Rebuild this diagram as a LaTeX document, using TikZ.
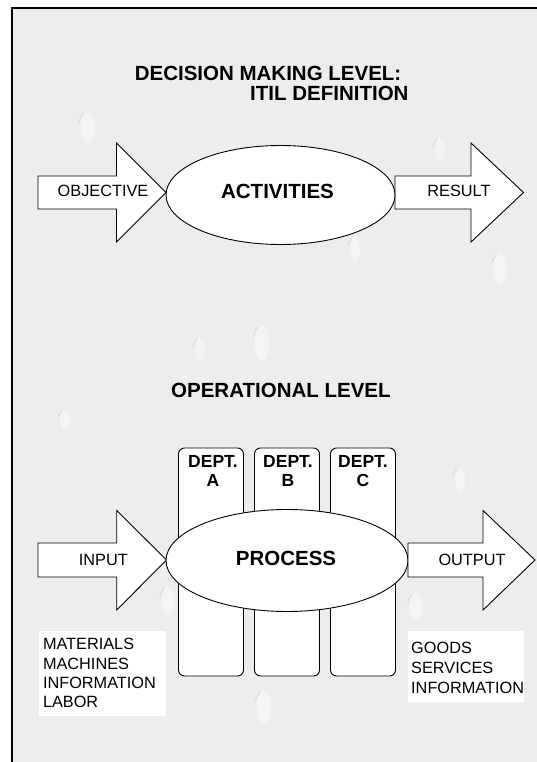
\documentclass[tikz,border=0pt]{standalone}
\usepackage{fontspec}
\setmainfont{Liberation Sans}
\usetikzlibrary{shapes.geometric}
\definecolor{paper}{gray}{0.93}
\begin{document}
\begin{tikzpicture}[x=1pt,y=-1pt,
  heading/.style={font=\fontsize{20.5}{24}\selectfont\bfseries, inner sep=0pt},
  plain/.style={font=\fontsize{16.3}{19.5}\selectfont, inner sep=0pt},
  deptlbl/.style={font=\fontsize{17.5}{19}\selectfont\bfseries, inner sep=0pt, align=center, anchor=north},
  outline/.style={draw=black, line width=0.9pt, fill=white, line join=miter},
  blob/.style={ellipse, outline, inner sep=0pt},
  deptbox/.style={draw=black, line width=0.9pt, fill=white, rounded corners=6pt,
    minimum width=65pt, minimum height=228pt, inner sep=0pt},
  listbox/.style={fill=white, inner sep=0pt, anchor=north west},
  drop/.style={fill=white, opacity=0.4},
  dropedge/.style={draw=black, opacity=0.06, line width=1.2pt},
]
\useasboundingbox (0,0) rectangle (537,762);
\fill[white] (0,0) rectangle (537,762);
\fill[paper] (11,6.7) rectangle (537,762);

% faint water drops on the paper
\foreach \x/\y/\w/\h in {88/128/7/17, 262/343/7/18, 500/270/7/16, 168/601/6/15,
                          416/607/6/15, 264/707/7/16, 440/150/5/12, 355/250/5/13,
                          200/350/5/12, 65/420/5/10, 460/480/5/12} {
  \fill[drop] (\x,\y) ellipse [x radius=\w, y radius=\h];
  \draw[dropedge] (\x,\y) ++(-\w-2,-\h*0.3) arc [start angle=200, end angle=250,
        x radius=\w+2, y radius=\h];
}

% frame
\draw[line width=2.4pt] (12.2,762) -- (12.2,7.85) -- (537,7.85);

% ---------- decision making level ----------
\node[heading, anchor=base west] (title1) at (134.6,81) {DECISION MAKING LEVEL:};
\node[heading, anchor=base west] (title2) at (250,101) {ITIL DEFINITION};

\draw[outline] (38,176) -- (116.5,176) -- (116.5,143) -- (166,192.5)
  -- (116.5,242) -- (116.5,209) -- (38,209) -- cycle;
\node[plain, anchor=base] (objective) at (103,196.7) {OBJECTIVE};

\draw[outline] (395,176) -- (471,176) -- (471,143) -- (523.5,192.5)
  -- (471,242) -- (471,209) -- (395,209) -- cycle;
\node[plain, anchor=base] (result) at (459,196.7) {RESULT};

\node[blob, minimum width=229pt, minimum height=99pt] (activities) at (280.5,195) {};
\node[heading, anchor=base] (actlbl) at (277.5,198.8) {ACTIVITIES};

% ---------- operational level ----------
\node[heading, anchor=base west] (oplevel) at (171,397.7) {OPERATIONAL LEVEL};

\node[deptbox] (deptA) at (211,562) {};
\node[deptbox] (deptB) at (287,562) {};
\node[deptbox] (deptC) at (363,562) {};
\node[deptlbl] (deptAlbl) at (213,455.5) {DEPT.\\A};
\node[deptlbl] (deptBlbl) at (288,455.5) {DEPT.\\B};
\node[deptlbl] (deptClbl) at (363,455.5) {DEPT.\\C};

\draw[outline] (38,543) -- (116.7,543) -- (116.7,510.5) -- (166.5,560)
  -- (116.7,610) -- (116.7,577) -- (38,577) -- cycle;
\node[plain, anchor=base] (input) at (103.3,565) {INPUT};

\node[blob, minimum width=242pt, minimum height=102pt] (process) at (287,560.5) {};
\node[heading, anchor=base] (proclbl) at (286,565.7) {PROCESS};

\draw[outline] (408,543) -- (483,543) -- (483,510.5) -- (535,560)
  -- (483,610) -- (483,577) -- (408,577) -- cycle;
\node[plain, anchor=base] (output) at (472,565) {OUTPUT};

% resource and product lists
\node[listbox, minimum width=127.3pt, minimum height=85pt] (inbox) at (38.7,631) {};
\node[plain, align=left, anchor=north west, font=\fontsize{16.3}{19.3}\selectfont]
  (inlist) at (42.8,638.3) {MATERIALS\\MACHINES\\INFORMATION\\LABOR};

\node[listbox, minimum width=116.5pt, minimum height=71pt] (outbox) at (407.5,631) {};
\node[plain, align=left, anchor=north west, font=\fontsize{16.3}{19.8}\selectfont]
  (outlist) at (411,642.3) {GOODS\\SERVICES\\INFORMATION};
\end{tikzpicture}
\end{document}
